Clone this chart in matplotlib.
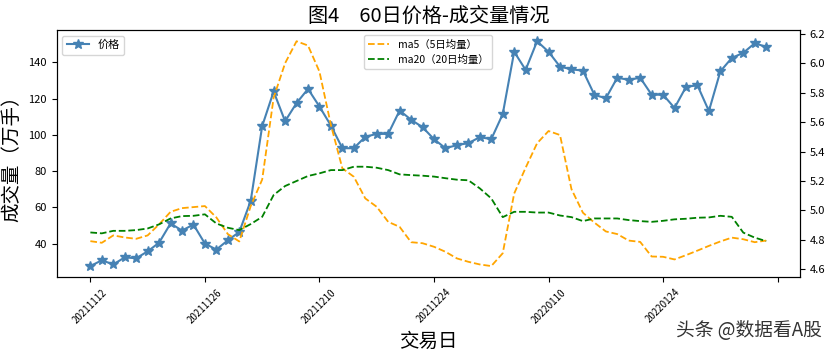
"""
60-day price / volume chart with 5 and 20 day moving averages
"""

import matplotlib
matplotlib.use('Agg')
import matplotlib.pyplot as plt

plt.rcParams['font.family'] = ['Noto Sans CJK SC', 'DejaVu Sans']
plt.rcParams['axes.unicode_minus'] = False

# tick labels (every 10th trading day)
tick_dates = ['20211112', '20211126', '20211210', '20211224', '20220110', '20220124']

# left axis series (stars)
price = [27.6, 30.8, 28.5, 32.4, 31.9, 35.7, 40.5, 51.1, 47.2, 50.5,
         40.0, 36.7, 41.8, 46.4, 63.6, 104.8, 123.9, 107.5, 117.5, 125.3,
         115.6, 105.1, 92.6, 92.6, 98.9, 100.5, 100.5, 113.4, 108.3, 104.2,
         97.6, 92.6, 94.3, 95.4, 98.7, 97.6, 111.4, 145.8, 135.8, 151.6,
         145.8, 137.6, 136.1, 135.4, 122.1, 120.1, 131.5, 130.3, 131.5, 122.1,
         122.1, 114.8, 126.4, 127.3, 113.1, 135.0, 142.4, 145.2, 150.5, 148.5]

# right axis series (dashed)
ma5 = [4.792, 4.781, 4.831, 4.817, 4.808, 4.831, 4.906, 4.991, 5.016, 5.023,
       5.030, 4.953, 4.840, 4.790, 5.030, 5.210, 5.765, 5.999, 6.148, 6.119,
       5.942, 5.580, 5.286, 5.229, 5.082, 5.025, 4.923, 4.889, 4.785, 4.778,
       4.754, 4.720, 4.675, 4.652, 4.634, 4.623, 4.710, 5.115, 5.290, 5.456,
       5.539, 5.512, 5.145, 4.985, 4.918, 4.858, 4.840, 4.796, 4.787, 4.688,
       4.686, 4.668, 4.697, 4.728, 4.760, 4.790, 4.816, 4.805, 4.785, 4.796]

ma20 = [4.851, 4.845, 4.862, 4.862, 4.867, 4.878, 4.906, 4.946, 4.962, 4.964,
        4.974, 4.912, 4.883, 4.867, 4.908, 4.957, 5.105, 5.166, 5.200, 5.234,
        5.252, 5.274, 5.274, 5.297, 5.297, 5.290, 5.274, 5.245, 5.240, 5.236,
        5.230, 5.219, 5.209, 5.205, 5.150, 5.082, 4.955, 4.991, 4.991, 4.986,
        4.986, 4.966, 4.955, 4.928, 4.946, 4.946, 4.946, 4.935, 4.928, 4.923,
        4.930, 4.940, 4.944, 4.951, 4.953, 4.964, 4.957, 4.850, 4.816, 4.792]

x = list(range(len(price)))

fig = plt.figure(figsize=(8.32, 3.53), dpi=100)
ax1 = fig.add_axes([0.068, 0.2144, 0.8935, 0.7006])

ax1.plot(x, price, marker='*', color='steelblue', linewidth=1.5,
         markersize=7, label='价格')
ax1.legend(loc='upper left', fontsize=8)
ax1.set_ylabel('成交量（万手）', fontsize=14)
ax1.set_xlabel('交易日', fontsize=14)
ax1.set_title('图4\u300060日价格-成交量情况', fontsize=14.5)
ax1.set_yticks([40, 60, 80, 100, 120, 140])
ax1.tick_params(axis='y', labelsize=8)

ax1.set_xticks(range(0, len(price) + 1, 10))
ax1.set_xticklabels(tick_dates + [''], rotation=45, fontsize=7)

ax2 = ax1.twinx()
ax2.plot(x, ma5, '--', color='orange', linewidth=1.3, label='ma5（5日均量）')
ax2.plot(x, ma20, '--', color='green', linewidth=1.3, label='ma20（20日均量）')
ax2.legend(loc='upper center', fontsize=7.5)
ax2.set_yticks([4.6, 4.8, 5.0, 5.2, 5.4, 5.6, 5.8, 6.0, 6.2])
ax2.set_yticklabels(['4.6', '4.8', '5.0', '5.2', '5.4', '5.6', '5.8', '6.0', '6.2'])
ax2.tick_params(axis='y', labelsize=8)

fig.text(0.988, 0.065, '头条 @数据看A股', ha='right', va='center',
         fontsize=13.5, color='#333333')

plt.savefig('out.png', dpi=100)
